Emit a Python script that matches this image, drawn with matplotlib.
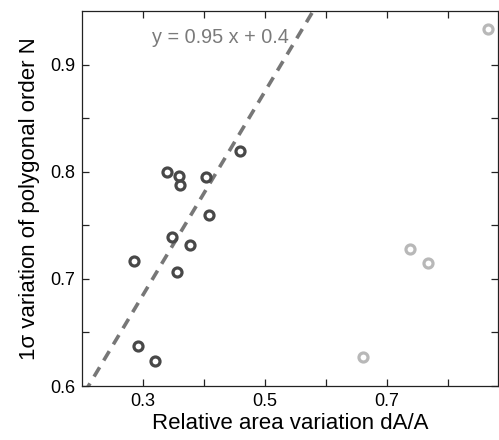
import numpy as np
import matplotlib
matplotlib.use("Agg")
import matplotlib.pyplot as plt
from matplotlib.ticker import FixedLocator

plt.rcParams['font.family'] = ['Liberation Sans', 'DejaVu Sans']

# dark points (fitted group)
dark_x = [0.459, 0.339, 0.359, 0.361, 0.403, 0.408, 0.347, 0.377, 0.286, 0.355, 0.292, 0.319]
dark_y = [0.819, 0.800, 0.796, 0.788, 0.795, 0.760, 0.739, 0.732, 0.717, 0.706, 0.637, 0.623]

# light points (outliers)
light_x = [0.660, 0.737, 0.767, 0.865]
light_y = [0.627, 0.728, 0.715, 0.933]

slope = 0.95
intercept = 0.4
fit_label = "y = 0.95 x + 0.4"

fig = plt.figure(figsize=(4.99, 4.40), dpi=100)
ax = fig.add_axes([0.1643, 0.1227, 0.8337, 0.8523])

xs = np.array([0.1, 1.0])
ax.plot(xs, slope * xs + intercept, color="#777777", linestyle=(0, (3, 2.2)), linewidth=2.6)

ax.plot(dark_x, dark_y, linestyle="none", marker="o", markersize=6.5,
        markerfacecolor="none", markeredgecolor="#484848", markeredgewidth=2.3)
ax.plot(light_x, light_y, linestyle="none", marker="o", markersize=6.5,
        markerfacecolor="none", markeredgecolor="#b8b8b8", markeredgewidth=2.3)

ax.text(0.315, 0.925, fit_label, color="#7a7a7a", fontsize=14.3, va="center", ha="left")

ax.set_xlim(0.2, 0.882)
ax.set_ylim(0.6, 0.95)

ax.xaxis.set_major_locator(FixedLocator([0.3, 0.5, 0.7]))
ax.xaxis.set_minor_locator(FixedLocator([0.4, 0.6, 0.8]))
ax.yaxis.set_major_locator(FixedLocator([0.6, 0.7, 0.8, 0.9]))
ax.yaxis.set_minor_locator(FixedLocator([0.65, 0.75, 0.85]))
ax.set_xticklabels(["0.3", "0.5", "0.7"])
ax.set_yticklabels(["0.6", "0.7", "0.8", "0.9"])

ax.tick_params(which="both", direction="in", top=True, right=True, length=5,
               width=0.9, labelsize=13, pad=5, color="#222222")

ax.set_xlabel("Relative area variation dA/A", fontsize=16, labelpad=2)
ax.set_ylabel("1σ variation of polygonal order N", fontsize=16, labelpad=7)

for s in ax.spines.values():
    s.set_linewidth(0.9)
    s.set_color("#222222")

fig.savefig("out.png", dpi=100)
